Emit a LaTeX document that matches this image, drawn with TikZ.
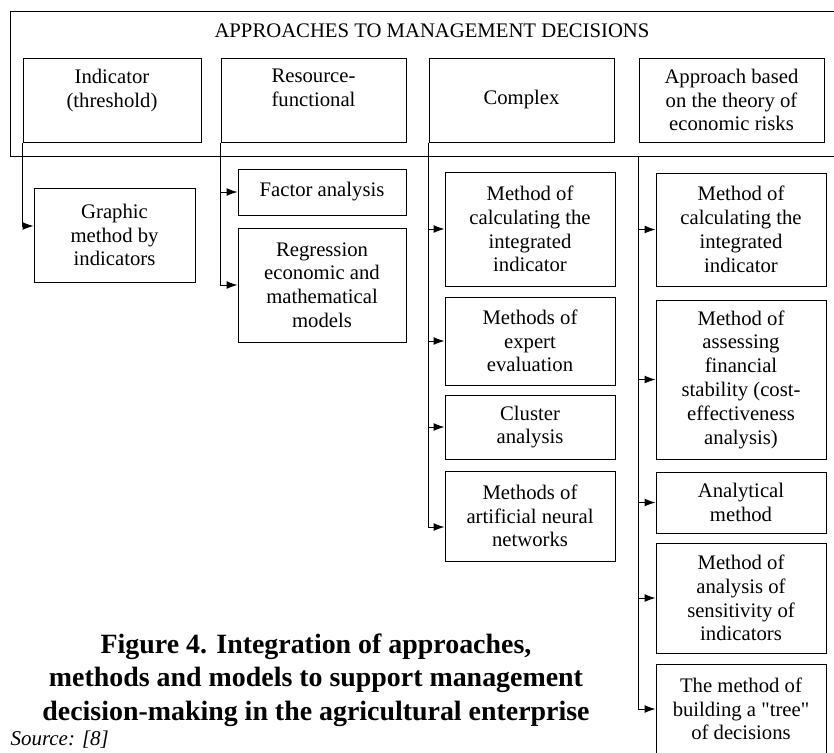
\documentclass[tikz,border=0pt]{standalone}
\usepackage{fontspec}
\setmainfont{Liberation Serif}
\newfontfamily\plainquotes{Liberation Serif}
\usetikzlibrary{arrows.meta}

\tikzset{
  box/.style={draw, line width=1pt, align=center, inner sep=2pt},
  link/.style={line width=1pt, -{Latex[length=11pt,width=8pt]}}
}

\begin{document}
\begin{tikzpicture}[x=1pt,y=-1pt,font=\fontsize{20.7}{23.8}\selectfont]
\useasboundingbox (0,0) rectangle (834,752);

% Outer frame and title
\node[draw, line width=1pt, inner sep=0, anchor=north west,
      minimum width=840pt, minimum height=145pt] (frame) at (10,11) {};
\node (title) at (432,31) {APPROACHES TO MANAGEMENT DECISIONS};

% Approaches
\node[box, minimum width=178pt, minimum height=84pt] (ind) at (112,100)
    {Indicator\\(threshold)\\\mbox{}};
\node[box, minimum width=185pt, minimum height=84pt] (res) at (313.5,100)
    {Resource-\\functional\\\mbox{}};
\node[box, minimum width=185pt, minimum height=84pt] (cmp) at (521.5,100)
    {Complex};
\node[box, minimum width=185pt, minimum height=84pt] (risk) at (731.5,100)
    {Approach based\\on the theory of\\economic risks};

% Indicator methods
\node[box, minimum width=161pt, minimum height=94pt] (graph) at (114.5,235)
    {Graphic\\method by\\indicators};

% Resource-functional methods
\node[box, minimum width=168pt, minimum height=46pt] (fact) at (322,192)
    {Factor analysis};
\node[box, minimum width=168pt, minimum height=114pt] (regr) at (322,285)
    {Regression\\economic and\\mathematical\\models};

% Complex methods
\node[box, minimum width=170pt, minimum height=114pt] (c1) at (530,229)
    {Method of\\calculating the\\integrated\\indicator};
\node[box, minimum width=170pt, minimum height=88pt] (c2) at (530,341)
    {Methods of\\expert\\evaluation};
\node[box, minimum width=170pt, minimum height=64pt] (c3) at (530,427)
    {Cluster\\analysis};
\node[box, minimum width=170pt, minimum height=90pt] (c4) at (530,516)
    {Methods of\\artificial neural\\networks};

% Risk methods
\node[box, minimum width=170pt, minimum height=113pt] (r1) at (741,229.5)
    {Method of\\calculating the\\integrated\\indicator};
\node[box, minimum width=170pt, minimum height=159pt] (r2) at (741,379.5)
    {Method of\\assessing\\financial\\stability (cost-\\effectiveness\\analysis)};
\node[box, minimum width=170pt, minimum height=61pt] (r3) at (741,502.5)
    {Analytical\\method};
\node[box, minimum width=170pt, minimum height=110pt] (r4) at (741,598)
    {Method of\\analysis of\\sensitivity of\\indicators};
\node[box, minimum width=170pt, minimum height=90pt] (r5) at (741,709)
    {The method of\\building a {\plainquotes"}tree{\plainquotes"}\\of decisions};

% Links
\draw[link] (ind.south west) |- ([yshift=9pt]graph.west);
\draw[link] (res.south west) |- (fact.west);
\draw[link] (res.south west) |- (regr.west);
\foreach \m in {c1,c2,c3}
  \draw[link] (cmp.south west) |- (\m.west);
\draw[link] (cmp.south west) |- ([yshift=-11pt]c4.west);
\foreach \m in {r1,r2,r3,r4,r5}
  \draw[link] (risk.south west |- frame.south) |- (\m.west);

% Caption
\node[font=\fontsize{27.9}{33.5}\selectfont\bfseries, align=center] (cap) at (316,680)
    {Figure 4. Integration of approaches,\\methods and models to support management\\decision-making in the agricultural enterprise};
\node[font=\fontsize{21}{24}\selectfont\itshape, anchor=base west] (src) at (7,745)
    {Source: [8]};

\end{tikzpicture}
\end{document}
